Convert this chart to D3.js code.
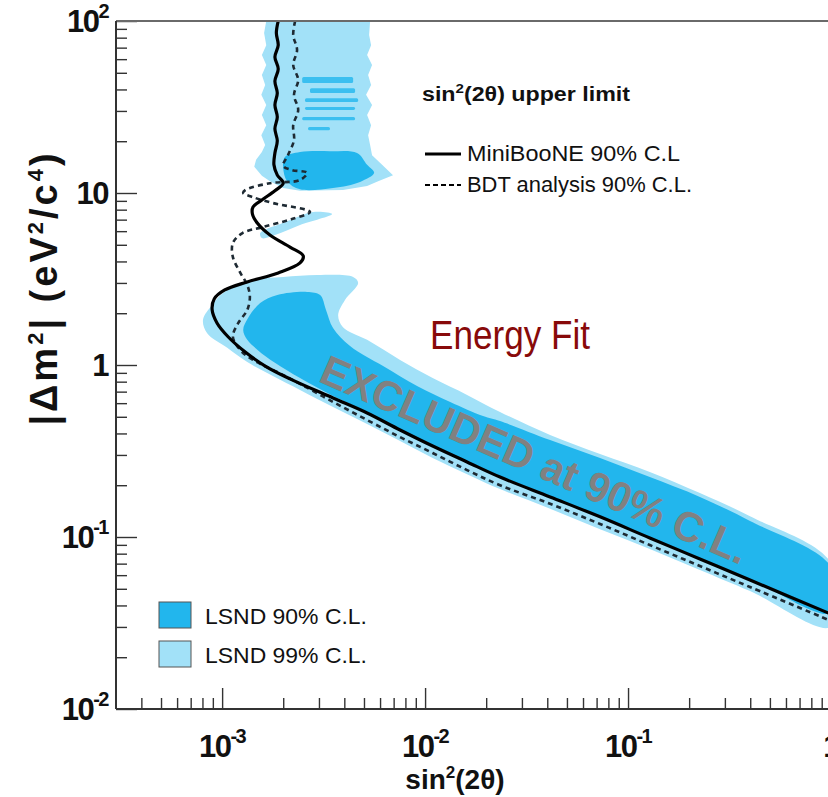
<!DOCTYPE html>
<html>
<head>
<meta charset="utf-8">
<script src="https://cdn.jsdelivr.net/npm/d3@7"></script>
<style>
  html, body { margin: 0; padding: 0; background: #fff; }
  svg { display: block; font-family: "Liberation Sans", Arial, Helvetica, sans-serif; }
</style>
</head>
<body>
<svg id="chart" width="828" height="797"></svg>
<script>
// ---- axis ticks -------------------------------------------------------
const xTickValues = [1e-3, 1e-2, 1e-1, 1];
const xTickLabels = [["10", "-3"], ["10", "-2"], ["10", "-1"], ["1", ""]];
const yTickValues = [1e-2, 1e-1, 1, 10, 100];
const yTickLabels = [["10", "-2"], ["10", "-1"], ["1", ""], ["10", ""], ["10", "2"]];

// ---- exclusion limits  [sin²(2θ), |Δm²| in eV²/c⁴] -----------------------
const miniboone90 = [
  [1.89e-3, 100], [1.85e-3, 85.1], [1.89e-3, 72.4], [1.82e-3, 61.8], [1.89e-3, 52.6],
  [1.82e-3, 44.8], [1.87e-3, 38.1], [1.82e-3, 32.5], [1.87e-3, 27.7], [1.82e-3, 23.6],
  [1.87e-3, 20.1], [1.82e-3, 17.1], [1.80e-3, 14.6], [1.87e-3, 12.7], [2.00e-3, 11.4],
  [1.82e-3, 10.3], [1.57e-3, 9.11], [1.42e-3, 8.29], [1.41e-3, 7.55], [1.49e-3, 6.69],
  [1.72e-3, 5.70], [2.16e-3, 4.85], [2.51e-3, 4.31], [2.42e-3, 3.92], [1.89e-3, 3.43],
  [1.33e-3, 3.04], [1.03e-3, 2.73], [9.14e-4, 2.42], [8.93e-4, 2.09], [9.45e-4, 1.75],
  [1.07e-3, 1.46], [1.30e-3, 1.19], [1.63e-3, 0.986], [2.16e-3, 0.830], [3.52e-3, 0.643],
  [5.18e-3, 0.526], [7.53e-3, 0.419], [1.09e-2, 0.338], [1.61e-2, 0.273], [2.34e-2, 0.223],
  [4.13e-2, 0.171], [7.28e-2, 0.131], [0.128, 0.0987], [0.226, 0.0745], [0.399, 0.0562],
  [1.0, 0.0356]
];

const bdt90 = [
  [2.29e-3, 100], [2.24e-3, 82.9], [2.34e-3, 67.8], [2.24e-3, 55.5], [2.37e-3, 45.4],
  [2.26e-3, 37.2], [2.37e-3, 30.4], [2.24e-3, 24.8], [2.26e-3, 20.3], [2.11e-3, 16.6],
  [2.00e-3, 14.4], [2.21e-3, 13.6], [2.62e-3, 13.1], [2.42e-3, 11.9], [1.72e-3, 11.4],
  [1.30e-3, 10.4], [1.27e-3, 10.0], [1.41e-3, 9.48], [1.78e-3, 8.74], [2.71e-3, 7.76],
  [2.21e-3, 7.06], [1.59e-3, 6.34], [1.26e-3, 5.85], [1.13e-3, 5.12], [1.13e-3, 4.24],
  [1.23e-3, 3.43], [1.33e-3, 2.92], [1.37e-3, 2.49], [1.33e-3, 2.09], [1.20e-3, 1.75],
  [1.13e-3, 1.46], [1.23e-3, 1.22], [1.42e-3, 1.07], [1.87e-3, 0.910], [2.42e-3, 0.776],
  [3.52e-3, 0.610], [5.18e-3, 0.479], [7.53e-3, 0.381], [1.09e-2, 0.308], [1.61e-2, 0.245],
  [2.34e-2, 0.200], [4.13e-2, 0.156], [7.28e-2, 0.119], [0.128, 0.0898], [0.226, 0.0678],
  [0.399, 0.0512], [1.0, 0.0325]
];

// ---- LSND allowed regions ----------------------------------------------
const lsnd99Upper = [
  [1.65e-3, 100], [5.36e-3, 100], [5.30e-3, 82.9], [5.42e-3, 72.4], [5.18e-3, 63.4],
  [5.48e-3, 55.5], [5.24e-3, 48.5], [5.42e-3, 42.5], [5.12e-3, 37.2], [5.48e-3, 32.5],
  [5.18e-3, 28.4], [5.42e-3, 24.8], [5.24e-3, 21.7], [5.36e-3, 19.0], [5.48e-3, 16.6],
  [6.14e-3, 14.6], [6.95e-3, 12.7], [5.87e-3, 11.7], [5.18e-3, 11.0], [3.94e-3, 10.4],
  [2.42e-3, 10.3], [2.00e-3, 10.7], [1.72e-3, 11.7], [1.57e-3, 12.6], [1.44e-3, 14.2],
  [1.47e-3, 15.6], [1.57e-3, 17.3], [1.63e-3, 19.0], [1.56e-3, 21.7], [1.65e-3, 24.8],
  [1.57e-3, 28.4], [1.65e-3, 32.5], [1.56e-3, 37.2], [1.63e-3, 42.5], [1.57e-3, 48.5],
  [1.65e-3, 55.5], [1.57e-3, 63.4], [1.65e-3, 72.4], [1.61e-3, 85.1]
];

const lsnd99Wedge = [
  [1.54e-3, 5.85], [2.04e-3, 6.77], [2.81e-3, 7.76], [3.48e-3, 7.55],
  [2.42e-3, 6.52], [1.82e-3, 5.70], [1.57e-3, 5.47]
];

const lsnd99Main = [
  [8.05e-4, 1.83], [8.93e-4, 2.23], [1.01e-3, 2.62], [1.37e-3, 3.12], [2.00e-3, 3.25],
  [2.94e-3, 3.34], [4.42e-3, 3.25], [4.68e-3, 3.00], [4.03e-3, 2.39], [3.73e-3, 1.95],
  [3.94e-3, 1.66], [5.18e-3, 1.40], [7.53e-3, 1.07], [1.09e-2, 0.839], [1.61e-2, 0.670],
  [2.34e-2, 0.533], [4.13e-2, 0.392], [7.28e-2, 0.304], [0.128, 0.239], [0.226, 0.180],
  [0.399, 0.132], [1.0, 0.0706],
  [1.0, 0.0300], [0.399, 0.0485], [0.226, 0.0643], [0.128, 0.0852], [7.28e-2, 0.111],
  [4.13e-2, 0.146], [2.34e-2, 0.190], [1.61e-2, 0.232], [1.09e-2, 0.288], [7.53e-3, 0.362],
  [5.18e-3, 0.454], [3.52e-3, 0.570], [2.42e-3, 0.716], [1.78e-3, 0.863], [1.33e-3, 1.04],
  [1.06e-3, 1.26], [8.44e-4, 1.53]
];

const lsnd90Upper = [
  [2.04e-3, 16.2], [2.42e-3, 17.3], [3.40e-3, 17.5], [4.62e-3, 17.1], [5.18e-3, 14.6],
  [5.61e-3, 13.1], [4.78e-3, 11.6], [3.52e-3, 10.7], [2.42e-3, 10.5], [2.09e-3, 11.7],
  [2.00e-3, 14.0]
];

// thin 90% C.L. bands inside the upper 99% column: [x0, x1, y0, y1]
const lsnd90Stripes = [
  [2.48e-3, 4.42e-3, 43.6, 47.2],
  [2.71e-3, 4.52e-3, 38.1, 40.7],
  [2.56e-3, 4.68e-3, 33.8, 35.6],
  [2.56e-3, 4.52e-3, 30.4, 31.6],
  [2.48e-3, 4.52e-3, 26.5, 27.7],
  [2.65e-3, 3.40e-3, 23.2, 24.2]
];

const lsnd90Main = [
  [1.27e-3, 1.60], [1.34e-3, 1.87], [1.54e-3, 2.29], [1.87e-3, 2.55], [2.62e-3, 2.66],
  [3.04e-3, 2.55], [3.25e-3, 2.09], [3.52e-3, 1.64], [4.27e-3, 1.29], [6.21e-3, 0.986],
  [9.13e-3, 0.755], [1.33e-2, 0.610], [1.93e-2, 0.505], [2.34e-2, 0.472], [4.13e-2, 0.366],
  [7.28e-2, 0.288], [0.128, 0.223], [0.226, 0.171], [0.399, 0.124], [1.0, 0.0670],
  [1.0, 0.0362], [0.399, 0.0570], [0.226, 0.0755], [0.128, 0.100], [7.28e-2, 0.132],
  [4.13e-2, 0.173], [2.34e-2, 0.226], [1.61e-2, 0.277], [1.09e-2, 0.343], [7.53e-3, 0.425],
  [5.18e-3, 0.533], [3.52e-3, 0.661], [2.42e-3, 0.839], [1.82e-3, 1.03], [1.50e-3, 1.22],
  [1.33e-3, 1.40]
];

// ---- layout ---------------------------------------------------------------
const plot = { left: 116, right: 831, top: 21, bottom: 709 };
const LIGHT = "#a2e1f8";
const DARK = "#22b6ed";

const svg = d3.select("#chart");
const x = d3.scaleLog().domain([3e-4, 1]).range([plot.left, plot.right]);
const y = d3.scaleLog().domain([1e-2, 1e2]).range([plot.bottom, plot.top]);

svg.append("defs").append("clipPath").attr("id", "plotClip")
  .append("rect")
  .attr("x", plot.left).attr("y", plot.top)
  .attr("width", plot.right - plot.left).attr("height", plot.bottom - plot.top);

const area = svg.append("g").attr("clip-path", "url(#plotClip)");

const ringSmooth = d3.line().x(d => x(d[0])).y(d => y(d[1])).curve(d3.curveCatmullRomClosed.alpha(0.5));
const ringSharp = d3.line().x(d => x(d[0])).y(d => y(d[1])).curve(d3.curveLinearClosed);
const trace = d3.line().x(d => x(d[0])).y(d => y(d[1])).curve(d3.curveCatmullRom.alpha(0.5));

// 99% C.L. regions
area.append("path").attr("d", ringSharp(lsnd99Upper)).attr("fill", LIGHT);
area.append("path").attr("d", ringSmooth(lsnd99Wedge)).attr("fill", LIGHT);
area.append("path").attr("d", ringSmooth(lsnd99Main)).attr("fill", LIGHT);

// 90% C.L. regions
area.append("path").attr("d", ringSmooth(lsnd90Upper)).attr("fill", DARK);
area.selectAll("rect.stripe").data(lsnd90Stripes).join("rect")
  .attr("class", "stripe")
  .attr("x", d => x(d[0])).attr("width", d => x(d[1]) - x(d[0]))
  .attr("y", d => y(d[3])).attr("height", d => y(d[2]) - y(d[3]))
  .attr("rx", 1.5)
  .attr("fill", DARK).attr("opacity", 0.8);
area.append("path").attr("d", ringSmooth(lsnd90Main)).attr("fill", DARK);

// limit curves
area.append("path").attr("d", trace(bdt90))
  .attr("fill", "none").attr("stroke", "#1e2a33").attr("stroke-width", 2.6)
  .attr("stroke-dasharray", "5,4");
area.append("path").attr("d", trace(miniboone90))
  .attr("fill", "none").attr("stroke", "#000").attr("stroke-width", 3.2);

// annotations
svg.append("text")
  .attr("x", 510).attr("y", 349)
  .attr("text-anchor", "middle")
  .attr("font-size", 40).attr("fill", "#880a0a")
  .attr("textLength", 160).attr("lengthAdjust", "spacingAndGlyphs")
  .text("Energy Fit");

svg.append("text")
  .attr("transform", "translate(317,381) rotate(23.5)")
  .attr("font-size", 42).attr("font-weight", "bold").attr("fill", "#818181")
  .attr("textLength", 462).attr("lengthAdjust", "spacingAndGlyphs")
  .text("EXCLUDED at 90% C.L.");

// ---- axes -----------------------------------------------------------------
const isMajor = v => Math.abs(Math.log10(v) - Math.round(Math.log10(v))) < 1e-6;
const xMinor = x.ticks().filter(v => !isMajor(v) && v > 3.01e-4);
const yMinor = y.ticks().filter(v => !isMajor(v));

function styleAxis(g) {
  g.select(".domain").remove();
  g.selectAll(".tick line").attr("stroke", "#333").attr("stroke-width", 1.4);
  g.selectAll(".tick text").remove();
}

svg.append("g").attr("transform", `translate(0,${plot.bottom})`)
  .call(d3.axisBottom(x).tickValues(xMinor).tickSize(-11)).call(styleAxis);
svg.append("g").attr("transform", `translate(0,${plot.bottom})`)
  .call(d3.axisBottom(x).tickValues(xTickValues).tickSize(-21)).call(styleAxis);
svg.append("g").attr("transform", `translate(${plot.left},0)`)
  .call(d3.axisLeft(y).tickValues(yMinor).tickSize(-11)).call(styleAxis);
svg.append("g").attr("transform", `translate(${plot.left},0)`)
  .call(d3.axisLeft(y).tickValues(yTickValues).tickSize(-21)).call(styleAxis);

// frame
svg.append("line").attr("x1", plot.left).attr("x2", 828).attr("y1", plot.top).attr("y2", plot.top)
  .attr("stroke", "#6a6a6a").attr("stroke-width", 2);
svg.append("line").attr("x1", plot.left).attr("x2", 828).attr("y1", plot.bottom).attr("y2", plot.bottom)
  .attr("stroke", "#333").attr("stroke-width", 2);
svg.append("line").attr("x1", plot.left).attr("x2", plot.left).attr("y1", plot.top).attr("y2", plot.bottom)
  .attr("stroke", "#333").attr("stroke-width", 2);

// tick labels
function powerLabel(sel, parts) {
  sel.append("tspan").text(parts[0]);
  if (parts[1]) sel.append("tspan").attr("font-size", 20).attr("dy", -14).text(parts[1]);
}
xTickValues.forEach((v, i) => {
  const t = svg.append("text")
    .attr("x", x(v)).attr("y", 757)
    .attr("text-anchor", "middle")
    .attr("font-size", 31).attr("font-weight", "bold").attr("letter-spacing", -1.5)
    .attr("fill", "#111");
  powerLabel(t, xTickLabels[i]);
});
yTickValues.forEach((v, i) => {
  const t = svg.append("text")
    .attr("x", 108).attr("y", y(v) + 11)
    .attr("text-anchor", "end")
    .attr("font-size", 31).attr("font-weight", "bold").attr("letter-spacing", -1.5)
    .attr("fill", "#111");
  powerLabel(t, yTickLabels[i]);
});

// axis titles
const xt = svg.append("text").attr("x", 455).attr("y", 789).attr("text-anchor", "middle")
  .attr("font-size", 28).attr("font-weight", "bold").attr("fill", "#111");
xt.append("tspan").text("sin");
xt.append("tspan").attr("font-size", 17).attr("dy", -11).text("2");
xt.append("tspan").attr("dy", 11).text("(2θ)");

const yt = svg.append("text").attr("transform", "translate(57,288) rotate(-90)")
  .attr("text-anchor", "middle")
  .attr("font-size", 38).attr("font-weight", "bold").attr("fill", "#111")
  .attr("letter-spacing", 3);
yt.append("tspan").text("|Δm");
yt.append("tspan").attr("font-size", 22).attr("dy", -14).text("2");
yt.append("tspan").attr("dy", 14).text("|  (eV");
yt.append("tspan").attr("font-size", 22).attr("dy", -14).text("2");
yt.append("tspan").attr("dy", 14).text("/c");
yt.append("tspan").attr("font-size", 22).attr("dy", -14).text("4");
yt.append("tspan").attr("dy", 14).text(")");

// ---- legends --------------------------------------------------------------
const lt = svg.append("text").attr("x", 422).attr("y", 101)
  .attr("font-size", 20).attr("font-weight", "bold").attr("fill", "#111")
  .attr("textLength", 208).attr("lengthAdjust", "spacingAndGlyphs");
lt.append("tspan").text("sin");
lt.append("tspan").attr("font-size", 13).attr("dy", -8).text("2");
lt.append("tspan").attr("dy", 8).text("(2θ) upper limit");

const curveLegend = [
  { label: "MiniBooNE 90% C.L", y: 154, dash: null, width: 3.2, len: 213 },
  { label: "BDT analysis 90% C.L.", y: 185, dash: "5,3", width: 2.2, len: 225 }
];
curveLegend.forEach(d => {
  svg.append("line").attr("x1", 425).attr("x2", 461).attr("y1", d.y).attr("y2", d.y)
    .attr("stroke", "#000").attr("stroke-width", d.width)
    .attr("stroke-dasharray", d.dash);
  svg.append("text").attr("x", 467).attr("y", d.y + 7)
    .attr("font-size", 22).attr("fill", "#111")
    .attr("textLength", d.len).attr("lengthAdjust", "spacingAndGlyphs")
    .text(d.label);
});

const regionLegend = [
  { label: "LSND 90% C.L.", fill: DARK, y: 602 },
  { label: "LSND 99% C.L.", fill: LIGHT, y: 641 }
];
regionLegend.forEach(d => {
  svg.append("rect").attr("x", 159).attr("y", d.y).attr("width", 32).attr("height", 26)
    .attr("fill", d.fill).attr("stroke", "#555").attr("stroke-width", 1);
  svg.append("text").attr("x", 205).attr("y", d.y + 22)
    .attr("font-size", 22).attr("fill", "#111")
    .attr("textLength", 162).attr("lengthAdjust", "spacingAndGlyphs")
    .text(d.label);
});
</script>
</body>
</html>
